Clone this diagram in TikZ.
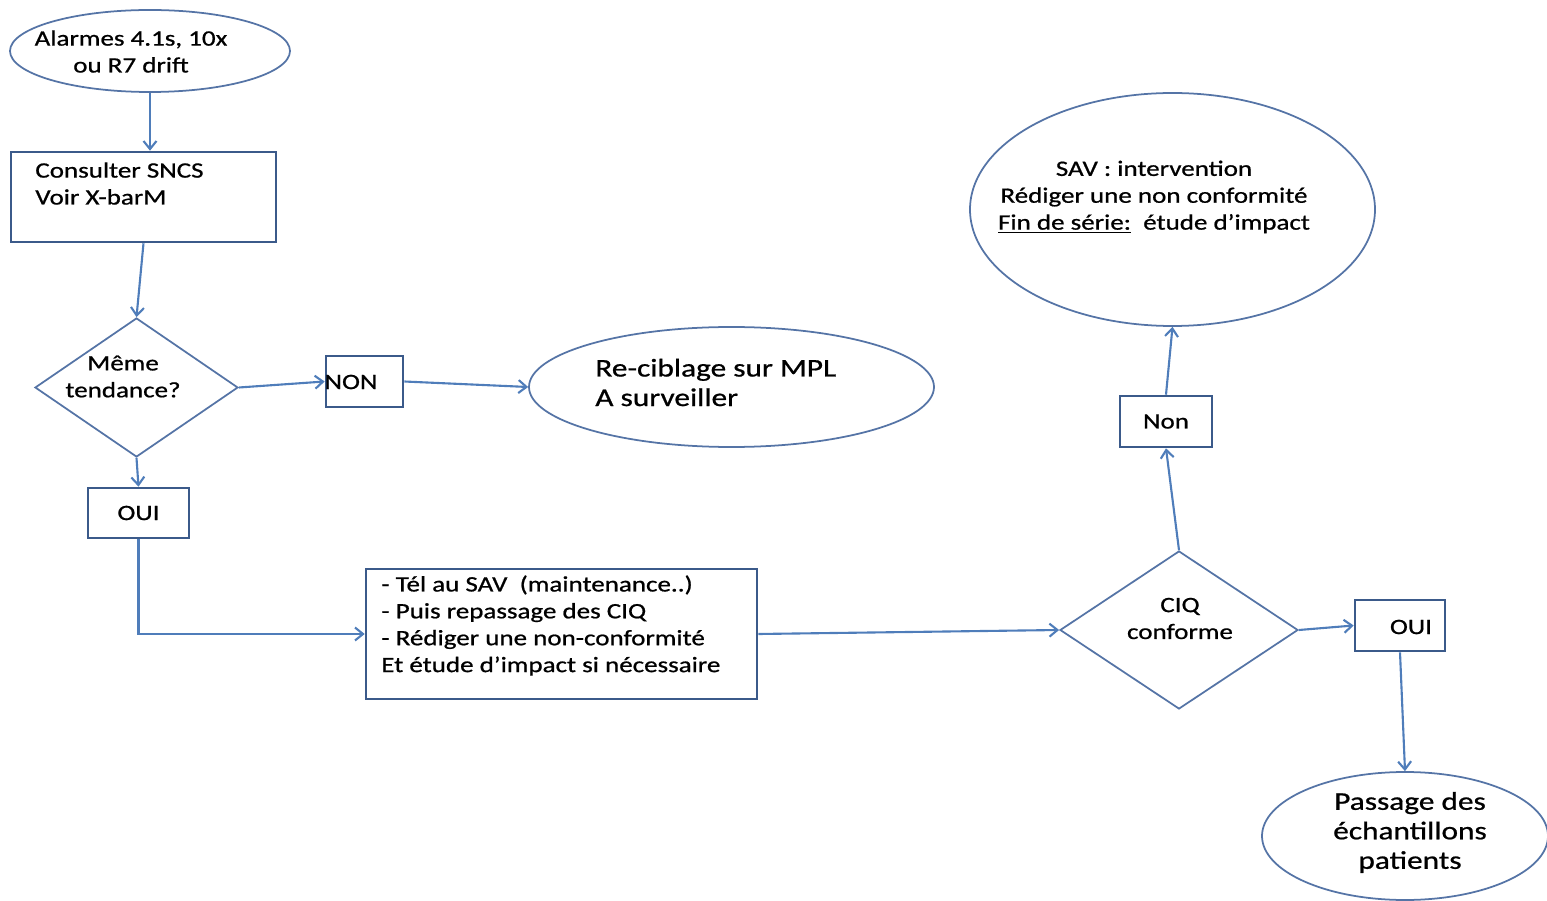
\documentclass[tikz,border=0pt]{standalone}
\usepackage{fontspec}
\setmainfont{Carlito}[FakeStretch=1.23,FakeBold=0.8]
\usetikzlibrary{shapes.geometric,arrows.meta}
\definecolor{boxblue}{HTML}{3B5A8A}
\definecolor{lineblue}{HTML}{4F7DBA}
\definecolor{shapeblue}{HTML}{5574A6}
\tikzset{
  box/.style={draw=boxblue,line width=1.5pt,inner sep=0pt},
  oval/.style={ellipse,draw=shapeblue,line width=1pt,inner sep=0pt},
  choice/.style={diamond,draw=shapeblue,line width=1pt,inner sep=0pt},
  txt/.style={font=\fontsize{12.5}{15.3}\selectfont,align=left,inner sep=0pt},
  bigtxt/.style={font=\fontsize{14.5}{16.8}\selectfont,align=left,inner sep=0pt},
  arr/.style={draw=lineblue,line width=1.2pt,-{Straight Barb[length=1.6mm,width=2.6mm]}}
}

\begin{document}
\begin{tikzpicture}
            \useasboundingbox (0,0) rectangle (30.94,-18.02);
            % shapes
            \node[oval,minimum width=5.6cm,minimum height=1.64cm] (alarm) at (3.0,-1.02) {};
            \node[box,minimum width=5.3cm,minimum height=1.8cm] (consult) at (2.87,-3.94) {};
            \node[choice,minimum width=4.06cm,minimum height=2.78cm] (meme) at (2.73,-7.75) {};
            \node[box,minimum width=1.54cm,minimum height=1.02cm] (non1) at (7.29,-7.63) {};
            \node[oval,minimum width=8.1cm,minimum height=2.4cm] (recible) at (14.63,-7.74) {};
            \node[box,minimum width=2.02cm,minimum height=1.0cm,txt] (oui1) at (2.77,-10.26) {OUI};
            \node[box,minimum width=7.82cm,minimum height=2.6cm] (sav) at (11.23,-12.68) {};
            \node[choice,minimum width=4.76cm,minimum height=3.16cm] (ciq) at (23.58,-12.6) {};
            \node[box,minimum width=1.8cm,minimum height=1.02cm] (oui2) at (28.0,-12.51) {};
            \node[box,minimum width=1.84cm,minimum height=1.02cm,txt] (non2) at (23.32,-8.43) {Non};
            \node[oval,minimum width=8.1cm,minimum height=4.66cm] (intervention) at (23.45,-4.19) {};
            \node[oval,minimum width=5.72cm,minimum height=2.56cm] (passage) at (28.1,-16.72) {};
            % texts
            \node[txt,align=center] (alarmtxt) at (2.62,-1.03) {Alarmes 4.1s, 10x\\ou R7 drift};
            \node[txt,anchor=west] (consulttxt) at (0.7,-3.67) {Consulter SNCS\\Voir X-barM};
            \node[txt,align=center] (memetxt) at (2.46,-7.53) {Même\\tendance?};
            \node[txt] (non1txt) at (7.02,-7.64) {NON};
            \node[bigtxt,anchor=west] (recibletxt) at (11.9,-7.65) {Re-ciblage sur MPL\\A surveiller};
            \node[txt,anchor=west] (savtxt) at (7.62,-12.51) {- Tél au SAV~~(maintenance..)\\- Puis repassage des CIQ\\- Rédiger une non-conformité\\Et étude d’impact si nécessaire};
            \node[txt,align=center] (ciqtxt) at (23.6,-12.37) {CIQ\\conforme};
            \node[txt] (oui2txt) at (28.22,-12.54) {OUI};
            \node[txt,align=center] (interventiontxt) at (23.08,-3.94) {SAV : intervention\\Rédiger une non conformité\\\underline{Fin de série:}~~étude d’impact};
            \node[bigtxt,align=center] (passagetxt) at (28.2,-16.65) {Passage des\\échantillons\\patients};
            % arrows
            \draw[arr] (alarm.south) -- (alarm.south |- consult.north);
            \draw[arr] (consult.south) -- (meme.north);
            \draw[arr] (meme.east) -- (non1.west);
            \draw[arr] (non1.east) -- (recible.west);
            \draw[arr] (meme.south) -- (oui1.north);
            \draw[arr] (oui1.south) |- (sav.west);
            \draw[arr] (sav.east) -- (ciq.west);
            \draw[arr] (ciq.east) -- (oui2.west);
            \draw[arr] (oui2.south) -- (passage.north);
            \draw[arr] (ciq.north) -- (non2.south);
            \draw[arr] (non2.north) -- (intervention.south);
\end{tikzpicture}
\end{document}
